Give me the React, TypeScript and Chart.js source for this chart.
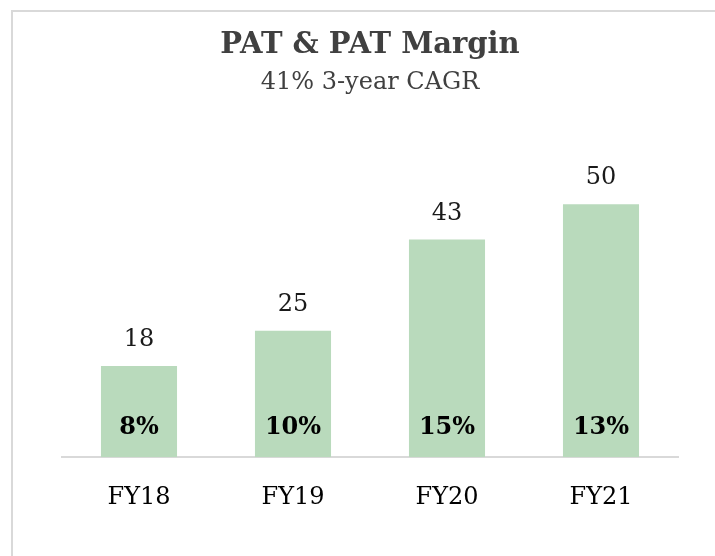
import React, { useEffect, useRef } from "react";
import { Chart, registerables } from "chart.js";

Chart.register(...registerables);

const categories = ["FY18", "FY19", "FY20", "FY21"];
const patValues = [18, 25, 43, 50];
const marginLabels = ["8%", "10%", "15%", "13%"];
const titleText = "PAT & PAT Margin";
const subtitleText = "41% 3-year CAGR";

const FONT = "'DejaVu Serif', 'Liberation Serif', serif";

const labelPlugin = {
  id: "barLabels",
  afterDatasetsDraw(chart: any) {
    const ctx = chart.ctx;
    const meta = chart.getDatasetMeta(0);
    ctx.save();
    ctx.textAlign = "center";
    ctx.textBaseline = "middle";
    meta.data.forEach((bar: any, i: number) => {
      ctx.fillStyle = "#1a1a1a";
      ctx.font = `24px ${FONT}`;
      ctx.fillText(String(patValues[i]), bar.x, bar.y - 26);
      ctx.fillStyle = "#000000";
      ctx.font = `bold 24px ${FONT}`;
      ctx.fillText(marginLabels[i], bar.x, bar.base - 29);
    });
    ctx.restore();
  },
};

const framePlugin = {
  id: "frame",
  beforeDraw(chart: any) {
    const ctx = chart.ctx;
    ctx.save();
    ctx.fillStyle = "#d9d9d9";
    ctx.fillRect(11, 10, 2, chart.height - 10);
    ctx.fillRect(11, 10, chart.width - 11, 2);
    ctx.restore();
  },
};

export default function App() {
  const ref = useRef<HTMLCanvasElement | null>(null);
  useEffect(() => {
    document.body.style.margin = "0";
    document.body.style.overflow = "hidden";
    if (!ref.current) return;
    const chart = new Chart(ref.current, {
      type: "bar",
      data: {
        labels: categories,
        datasets: [
          {
            label: "PAT",
            data: patValues,
            backgroundColor: "#b9dabc",
            categoryPercentage: 1,
            barPercentage: 0.494,
          },
        ],
      },
      options: {
        responsive: false,
        animation: false,
        layout: { padding: { top: 0, left: 62, right: 37, bottom: 26 } },
        plugins: {
          legend: { display: false },
          tooltip: { enabled: false },
          title: {
            display: true,
            text: titleText,
            color: "#404040",
            font: { family: FONT, size: 29, weight: "bold" },
            padding: { top: 28, bottom: 6 },
          },
          subtitle: {
            display: true,
            text: subtitleText,
            color: "#404040",
            font: { family: FONT, size: 24 },
            padding: { top: 0, bottom: 56 },
          },
        },
        scales: {
          x: {
            grid: { display: false },
            border: { display: true, color: "#d9d9d9", width: 2 },
            ticks: {
              color: "#000000",
              font: { family: FONT, size: 24 },
              padding: 18,
            },
          },
          y: {
            display: false,
            min: 0,
            max: 60,
          },
        },
      },
      plugins: [framePlugin, labelPlugin],
    });
    return () => chart.destroy();
  }, []);
  return (
    <div style={{ position: "absolute", left: 0, top: 0, width: 715, height: 556, background: "#ffffff", overflow: "hidden" }}>
      <canvas ref={ref} width={715} height={556} style={{ position: "absolute", left: 0, top: 0, display: "block" }} />
    </div>
  );
}
